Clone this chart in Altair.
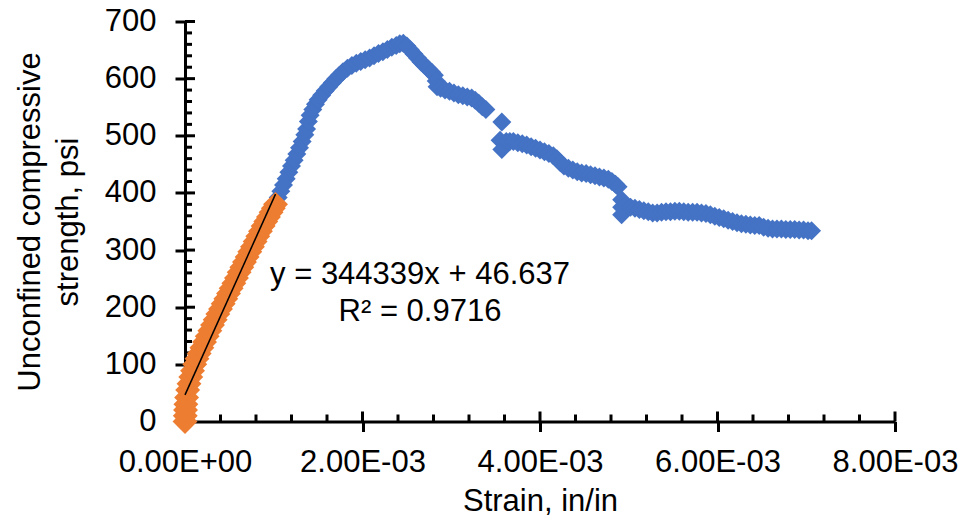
import altair as alt
import pandas as pd

# ---- data (strain in units of 1E-03 in/in, stress in psi) ----
blue_strain_e3 = [
    1.05, 1.08, 1.11, 1.14, 1.17, 1.20, 1.23, 1.26, 1.29, 1.32, 1.35, 1.37, 1.39, 1.41,
    1.44, 1.47, 1.50, 1.54, 1.58, 1.62, 1.66, 1.70, 1.74, 1.78, 1.83, 1.88, 1.93, 1.98,
    2.03, 2.08, 2.13, 2.18, 2.23, 2.28, 2.33, 2.38, 2.42, 2.46, 2.50, 2.54, 2.58, 2.62,
    2.66, 2.70, 2.74, 2.78, 2.81, 2.83, 2.84, 2.88, 2.93, 2.98, 3.03, 3.08, 3.13, 3.18,
    3.23, 3.27, 3.31, 3.35, 3.39, 3.57, 3.55, 3.57, 3.62, 3.66, 3.70, 3.75, 3.80, 3.85,
    3.90, 3.95, 4.00, 4.05, 4.10, 4.15, 4.19, 4.23, 4.27, 4.32, 4.37, 4.42, 4.47, 4.52,
    4.57, 4.62, 4.67, 4.72, 4.77, 4.81, 4.85, 4.88, 4.92, 4.92, 4.92, 4.97, 5.02, 5.07,
    5.12, 5.17, 5.22, 5.27, 5.32, 5.37, 5.42, 5.47, 5.52, 5.57, 5.62, 5.67, 5.72, 5.77,
    5.82, 5.87, 5.92, 5.97, 6.02, 6.07, 6.12, 6.17, 6.22, 6.27, 6.32, 6.37, 6.42, 6.47,
    6.52, 6.57, 6.62, 6.67, 6.72, 6.77, 6.82, 6.87, 6.92, 6.97, 7.02, 7.06,
]
blue_stress = [
    392, 403, 414, 425, 436, 447, 457, 468, 479, 490, 502, 512, 525, 536,
    546, 555, 563, 571, 579, 586, 593, 600, 606, 612, 618, 623, 627, 630,
    633, 636, 640, 644, 647, 651, 655, 658, 661, 662, 657, 650, 643, 636,
    629, 623, 617, 611, 606, 596, 586, 583, 580, 578, 575, 572, 570, 568,
    566, 562, 557, 551, 546, 524, 492, 476, 490, 490, 490, 488, 486, 484,
    481, 478, 475, 472, 469, 465, 460, 453, 447, 443, 440, 437, 435, 434,
    432, 430, 428, 426, 424, 420, 415, 411, 388, 375, 362, 378, 375, 373,
    371, 369, 367, 365, 365, 366, 367, 367, 368, 368, 367, 366, 366, 366,
    365, 364, 362, 359, 357, 355, 352, 350, 348, 346, 345, 344, 343, 343,
    340, 338, 337, 337, 337, 336, 336, 336, 335, 335, 334, 334,
]
orange_strain_e3 = [
    0.000, 0.003, 0.006, 0.010, 0.018, 0.030, 0.045, 0.065, 0.085, 0.110, 0.135,
    0.160, 0.190, 0.220, 0.250, 0.280, 0.310, 0.340, 0.370, 0.400, 0.430, 0.460,
    0.490, 0.520, 0.550, 0.580, 0.610, 0.640, 0.670, 0.700, 0.730, 0.760, 0.790,
    0.820, 0.850, 0.880, 0.910, 0.940, 0.970, 0.995, 1.020,
]
orange_stress = [
    0, 10, 20, 30, 42, 55, 66, 78, 89, 100, 110,
    119, 129, 139, 149, 159, 169, 178, 188, 197, 206, 215,
    224, 233, 242, 251, 261, 270, 279, 288, 297, 306, 315,
    324, 333, 342, 350, 358, 366, 373, 380,
]

fit_slope = 344339
fit_intercept = 46.637
eq_lines = ["y = 344339x + 46.637", "R² = 0.9716"]

x_major = [0, 0.002, 0.004, 0.006, 0.008]
x_minor = [0.0004, 0.0008, 0.0012, 0.0016, 0.0024, 0.0028, 0.0032, 0.0036,
           0.0044, 0.0048, 0.0052, 0.0056, 0.0064, 0.0068, 0.0072, 0.0076]
y_major = [0, 100, 200, 300, 400, 500, 600, 700]
y_minor = [20, 40, 60, 80, 120, 140, 160, 180, 220, 240, 260, 280, 320, 340, 360, 380,
           420, 440, 460, 480, 520, 540, 560, 580, 620, 640, 660, 680]

# ---- tables ----
blue_df = pd.DataFrame({"strain": [v * 1e-3 for v in blue_strain_e3], "stress": blue_stress})
orange_df = pd.DataFrame({"strain": [v * 1e-3 for v in orange_strain_e3], "stress": orange_stress})
x_end = max(orange_df["strain"])
trend_df = pd.DataFrame({"strain": [0.0, x_end],
                         "stress": [fit_intercept, fit_slope * x_end + fit_intercept]})

FONT = "Liberation Sans"
FS = 31
W, H = 710, 400

x_scale = alt.Scale(domain=[0, 0.008], nice=False, zero=False)
y_scale = alt.Scale(domain=[0, 700], nice=False)

x_axis = alt.Axis(
    values=x_major, grid=False, labelFlush=False, labelOverlap=False,
    labelExpr="datum.value == 0 ? '0.00E+00' : format(datum.value * 1000, '.2f') + 'E-03'",
    tickSize=10, tickWidth=3, tickColor="black", domainColor="black", domainWidth=3,
    labelFont=FONT, labelFontSize=FS, labelColor="black", labelPadding=16,
    title="Strain, in/in", titleFont=FONT, titleFontSize=FS, titleFontWeight="normal",
    titleColor="black", titleX=W / 2, titleY=89, titleBaseline="alphabetic", titleAlign="center",
)
y_axis = alt.Axis(
    values=y_major, grid=False, labelOverlap=False,
    tickSize=10, tickWidth=3, tickColor="black", domainColor="black", domainWidth=3,
    labelFont=FONT, labelFontSize=FS, labelColor="black", labelPadding=19,
    title=["Unconfined compressive", "strength, psi"], titleFont=FONT, titleFontSize=FS,
    titleFontWeight="normal", titleColor="black", titleAngle=-90, titleX=-170, titleY=H / 2,
    titleBaseline="top", titleAlign="center", titleLineHeight=38,
)

X = alt.X("strain:Q", scale=x_scale, axis=x_axis)
Y = alt.Y("stress:Q", scale=y_scale, axis=y_axis)

# inward parts of the tick marks (Excel "cross" major / "inside" minor)
ymaj_in = alt.Chart(pd.DataFrame({"v": y_major})).mark_rule(color="black", strokeWidth=3).encode(
    y=alt.Y("v:Q", scale=y_scale), x=alt.value(0), x2=alt.value(10))
ymin_in = alt.Chart(pd.DataFrame({"v": y_minor})).mark_rule(color="black", strokeWidth=3).encode(
    y=alt.Y("v:Q", scale=y_scale), x=alt.value(0), x2=alt.value(7))
xmaj_in = alt.Chart(pd.DataFrame({"v": x_major})).mark_rule(color="black", strokeWidth=3).encode(
    x=alt.X("v:Q", scale=x_scale), y=alt.value(H), y2=alt.value(H - 10))
xmin_in = alt.Chart(pd.DataFrame({"v": x_minor})).mark_rule(color="black", strokeWidth=3).encode(
    x=alt.X("v:Q", scale=x_scale), y=alt.value(H), y2=alt.value(H - 7))

blue = alt.Chart(blue_df).mark_point(shape="diamond", filled=True, size=360, opacity=1,
                                     color="#4472C4", strokeWidth=0).encode(x=X, y=Y)
orange = alt.Chart(orange_df).mark_point(shape="diamond", filled=True, size=620, opacity=1,
                                         color="#ED7D31", strokeWidth=0).encode(x=X, y=Y)
trend = alt.Chart(trend_df).mark_line(color="black", strokeWidth=1.5).encode(x=X, y=Y)

eq1 = alt.Chart(pd.DataFrame({"t": [eq_lines[0]]})).mark_text(
    font=FONT, fontSize=FS, color="black", align="center", baseline="middle").encode(
    text="t:N", x=alt.value(235), y=alt.value(253))
eq2 = alt.Chart(pd.DataFrame({"t": [eq_lines[1]]})).mark_text(
    font=FONT, fontSize=FS, color="black", align="center", baseline="middle").encode(
    text="t:N", x=alt.value(235), y=alt.value(290))

chart = alt.layer(ymaj_in, ymin_in, xmaj_in, xmin_in, blue, orange, trend, eq1, eq2).properties(
    width=W, height=H,
    autosize=alt.AutoSizeParams(type="none"),
    padding={"left": 185, "top": 21.5, "right": 71, "bottom": 101.5},
    background="white",
).configure_view(stroke=None)

chart.save("out.html", embed_options={"renderer": "svg", "actions": False})
